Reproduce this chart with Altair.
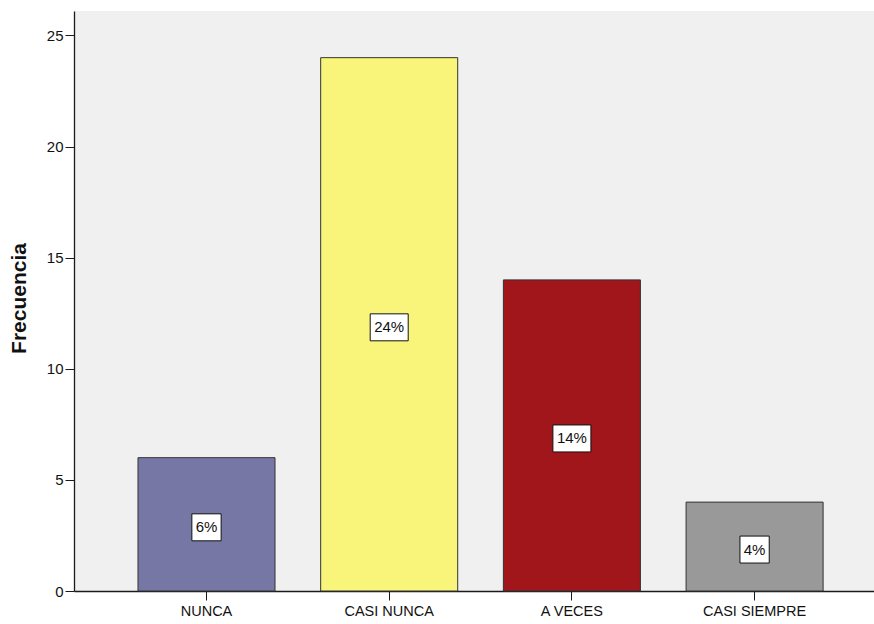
import altair as alt
import pandas as pd

# Frequency of each answer
categories = ["NUNCA", "CASI NUNCA", "A VECES", "CASI SIEMPRE"]
counts = [6, 24, 14, 4]
labels = ["6%", "24%", "14%", "4%"]
bar_colors = ["#7777a6", "#f9f57a", "#a0161b", "#999999"]

df = pd.DataFrame({
    "categoria": categories,
    "frecuencia": counts,
    "etiqueta": labels,
})
df["mitad"] = df["frecuencia"] / 2
df["ancho"] = df["etiqueta"].str.len().map(lambda n: "ancho" if n > 2 else "corto")

FONT = "Liberation Sans"

x_scale = alt.Scale(domain=categories, paddingInner=0.25, paddingOuter=0.3144, align=0.557)
y_scale = alt.Scale(domain=[0, 26.1], nice=False, zero=True)

x_enc = alt.X(
    "categoria:N",
    scale=x_scale,
    sort=categories,
    axis=alt.Axis(
        title=None,
        labelAngle=0,
        labelFont=FONT,
        labelFontSize=14.5,
        labelColor="#111111",
        tickSize=9,
        tickColor="#1a1a1a",
        domainColor="#1a1a1a",
        domainWidth=1.3,
        labelPadding=4,
    ),
)

bars = alt.Chart(df).mark_bar(stroke="#333333", strokeWidth=1).encode(
    x=x_enc,
    y=alt.Y(
        "frecuencia:Q",
        scale=y_scale,
        axis=alt.Axis(
            values=[0, 5, 10, 15, 20, 25],
            grid=False,
            title="Frecuencia",
            titleFont=FONT,
            titleFontSize=21,
            titleFontWeight="bold",
            titleColor="#111111",
            titleAngle=-90,
            titleX=-55,
            titleY=287,
            titleAlign="center",
            titleBaseline="middle",
            labelFont=FONT,
            labelFontSize=15,
            labelColor="#111111",
            tickSize=9,
            tickColor="#1a1a1a",
            domainColor="#1a1a1a",
            domainWidth=1.3,
            labelPadding=2,
        ),
    ),
    color=alt.Color(
        "categoria:N",
        scale=alt.Scale(domain=categories, range=bar_colors),
        legend=None,
    ),
)

# white label boxes drawn as custom symbols, wider for two-digit labels
box_wide = "M-1,-0.71L1,-0.71L1,0.71L-1,0.71Z"
box_short = "M-0.77,-0.71L0.77,-0.71L0.77,0.71L-0.77,0.71Z"

boxes = alt.Chart(df).mark_point(
    filled=True, fill="white", stroke="#111111", strokeWidth=1, opacity=1, size=1444, yOffset=3
).encode(
    x=alt.X("categoria:N", scale=x_scale, sort=categories),
    y=alt.Y("mitad:Q", scale=y_scale),
    shape=alt.Shape(
        "ancho:N",
        scale=alt.Scale(domain=["ancho", "corto"], range=[box_wide, box_short]),
        legend=None,
    ),
)

texts = alt.Chart(df).mark_text(
    font=FONT, fontSize=15, color="#111111", align="center", baseline="middle", yOffset=3
).encode(
    x=alt.X("categoria:N", scale=x_scale, sort=categories),
    y=alt.Y("mitad:Q", scale=y_scale),
    text="etiqueta:N",
)

chart = (
    alt.layer(bars, boxes, texts)
    .properties(
        width=800,
        height=580,
        autosize=alt.AutoSizeParams(type="none"),
        padding={"left": 74, "top": 11, "right": 0, "bottom": 33},
        background="white",
    )
    .configure_view(fill="#f0f0f0", stroke=None)
)

chart.save("out.html", embed_options={"renderer": "svg", "actions": False})
